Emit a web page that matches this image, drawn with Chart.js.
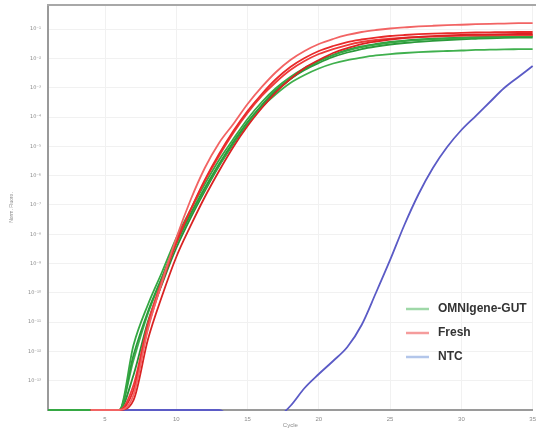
<!DOCTYPE html>
<html><head><meta charset="utf-8">
<script src="https://cdn.jsdelivr.net/npm/chart.js@4.4.1/dist/chart.umd.min.js"></script>
<style>html,body{margin:0;padding:0;background:#fff;overflow:hidden;width:536px;height:429px}canvas{display:block}</style>
</head><body>
<canvas id="c" width="542" height="429"></canvas>
<script>
const cycles = [1,2,3,4,5,6,7,8,9,10,11,12,13,14,15,16,17,18,19,20,21,22,23,24,25,26,27,28,29,30,31,32,33,34,35];

const freshA = [null,null,null,1e-14,1e-14,1e-14,3.25e-14,5.37e-12,2.34e-10,7.41e-9,1.47e-7,1.82e-6,1.30e-5,5.77e-5,2.78e-4,1.06e-3,3.44e-3,8.81e-3,1.79e-2,3.10e-2,4.59e-2,6.30e-2,7.96e-2,9.31e-2,1.05e-1,1.14e-1,1.23e-1,1.30e-1,1.36e-1,1.41e-1,1.47e-1,1.52e-1,1.55e-1,1.59e-1,1.61e-1];
const freshB = [null,null,null,1e-14,1e-14,1e-14,4.82e-14,6.30e-12,2.16e-10,5.01e-9,6.70e-8,7.08e-7,5.46e-6,3.33e-5,1.60e-4,6.10e-4,1.98e-3,5.09e-3,1.03e-2,1.79e-2,2.65e-2,3.63e-2,4.42e-2,5.16e-2,5.82e-2,6.30e-2,6.70e-2,7.03e-2,7.24e-2,7.48e-2,7.66e-2,7.78e-2,7.91e-2,7.96e-2,7.96e-2];
const freshC = [null,null,null,1e-14,1e-14,1e-14,2.19e-14,2.45e-12,7.78e-11,1.67e-9,1.91e-8,1.86e-7,1.44e-6,9.46e-6,4.93e-5,2.03e-4,7.13e-4,1.98e-3,4.70e-3,8.81e-3,1.53e-2,2.26e-2,3.10e-2,3.78e-2,4.42e-2,4.97e-2,5.37e-2,5.73e-2,6.04e-2,6.30e-2,6.49e-2,6.65e-2,6.75e-2,6.81e-2,6.81e-2];
const freshD = [null,null,null,1e-14,1e-14,1e-14,7.13e-14,8.61e-12,2.74e-10,5.86e-9,6.70e-8,6.55e-7,4.67e-6,2.84e-5,1.37e-4,5.21e-4,1.57e-3,4.02e-3,8.15e-3,1.41e-2,2.09e-2,2.86e-2,3.63e-2,4.25e-2,4.70e-2,5.09e-2,5.37e-2,5.58e-2,5.77e-2,5.90e-2,6.04e-2,6.14e-2,6.19e-2,6.25e-2,6.30e-2];

const omniA = [1e-14,1e-14,1e-14,1e-14,1e-14,1e-14,1.65e-12,3.84e-11,5.13e-10,7.41e-9,6.70e-8,5.16e-7,3.41e-6,1.77e-5,8.55e-5,3.25e-4,9.77e-4,2.32e-3,4.70e-3,8.15e-3,1.31e-2,1.86e-2,2.45e-2,2.98e-2,3.49e-2,3.93e-2,4.25e-2,4.52e-2,4.74e-2,4.97e-2,5.16e-2,5.37e-2,5.55e-2,5.68e-2,5.82e-2];
const omniB = [1e-14,1e-14,1e-14,1e-14,1e-14,1e-14,7.53e-13,2.21e-11,3.46e-10,5.01e-9,4.89e-8,3.78e-7,2.49e-6,1.40e-5,6.75e-5,2.57e-4,8.36e-4,1.98e-3,4.02e-3,6.97e-3,1.12e-2,1.59e-2,2.09e-2,2.55e-2,2.98e-2,3.36e-2,3.69e-2,3.99e-2,4.25e-2,4.49e-2,4.67e-2,4.85e-2,5.01e-2,5.13e-2,5.16e-2];
const omniC = [1e-14,1e-14,1e-14,1e-14,1e-14,1e-14,5.09e-13,1.89e-11,3.20e-10,4.63e-9,4.52e-8,3.49e-7,2.30e-6,1.30e-5,6.24e-5,2.19e-4,6.10e-4,1.45e-3,2.72e-3,4.52e-3,6.70e-3,8.81e-3,1.07e-2,1.26e-2,1.41e-2,1.53e-2,1.63e-2,1.72e-2,1.79e-2,1.86e-2,1.94e-2,1.98e-2,2.03e-2,2.06e-2,2.09e-2];
const omniD = [1e-14,1e-14,1e-14,1e-14,1e-14,1e-14,1.57e-13,1.01e-11,2.00e-10,3.38e-9,3.57e-8,2.98e-7,2.13e-6,1.20e-5,5.77e-5,2.38e-4,7.71e-4,1.98e-3,4.35e-3,8.15e-3,1.31e-2,1.94e-2,2.55e-2,3.10e-2,3.63e-2,4.06e-2,4.42e-2,4.70e-2,4.93e-2,5.13e-2,5.30e-2,5.42e-2,5.50e-2,5.55e-2,5.58e-2];

const ntc = [null,null,null,null,null,1e-14,1e-14,1e-14,1e-14,1e-14,1e-14,1e-14,1e-14,5e-15,4e-15,4e-15,5e-15,1.37e-14,5.64e-14,1.69e-13,4.70e-13,1.41e-12,7.96e-12,9.84e-11,1.32e-9,2.06e-8,2.36e-7,1.82e-6,9.46e-6,3.60e-5,1.08e-4,3.25e-4,9.77e-4,2.32e-3,5.51e-3];

const seriesNames = ['OMNIgene-GUT','Fresh','NTC'];
const xTickValues = [5,10,15,20,25,30,35];
const yTickValues = [1e-13,1e-12,1e-11,1e-10,1e-9,1e-8,1e-7,1e-6,1e-5,1e-4,1e-3,1e-2,1e-1];
const yTickLabels = ['10⁻¹³','10⁻¹²','10⁻¹¹','10⁻¹⁰','10⁻⁹','10⁻⁸','10⁻⁷','10⁻⁶','10⁻⁵','10⁻⁴','10⁻³','10⁻²','10⁻¹'];

function pts(arr){ return cycles.map((c,i)=>({x:c, y:arr[i]})); }
function ds(label, arr, color){
  return {label, data: pts(arr), borderColor: color, backgroundColor: color, borderWidth: 1.8,
    pointRadius: 0, fill: false, cubicInterpolationMode: 'monotone', spanGaps: false,
    clip: {left: 0, top: 0, right: 4, bottom: 1}};
}

const datasets = [
  ds('Fresh', freshA, '#f26464'),
  ds('Fresh', freshB, '#e82a2a'),
  ds('Fresh', freshC, '#d92323'),
  ds('Fresh', freshD, '#ee3a3a'),
  ds('OMNIgene-GUT', omniA, '#35a843'),
  ds('OMNIgene-GUT', omniB, '#2c9a3b'),
  ds('OMNIgene-GUT', omniC, '#40b04e'),
  ds('OMNIgene-GUT', omniD, '#2a8f37'),
  ds('NTC', ntc, '#5b5bc6')
];

const framePlugin = {
  id: 'frame',
  beforeDatasetsDraw(chart){
    const {ctx, chartArea: a} = chart;
    ctx.save();
    ctx.strokeStyle = '#a8a8a8';
    ctx.lineWidth = 2;
    ctx.beginPath();
    ctx.moveTo(a.left - 1, a.top);
    ctx.lineTo(chart.width, a.top);
    ctx.stroke();
    ctx.restore();
  }
};

const legendPlugin = {
  id: 'customLegend',
  afterDatasetsDraw(chart){
    const ctx = chart.ctx;
    const colors = ['#9fd8a8', '#f59c9c', '#b3c6ea'];
    const rows = [309, 333, 357];
    ctx.save();
    seriesNames.forEach((name, i) => {
      ctx.strokeStyle = colors[i];
      ctx.lineWidth = 2.5;
      ctx.beginPath();
      ctx.moveTo(406, rows[i]);
      ctx.lineTo(429, rows[i]);
      ctx.stroke();
      ctx.fillStyle = '#333333';
      ctx.font = 'bold 12px "Liberation Sans", Arial, sans-serif';
      ctx.textBaseline = 'middle';
      ctx.fillText(name, 438, rows[i]);
    });
    ctx.restore();
  }
};

new Chart(document.getElementById('c'), {
  type: 'line',
  data: { datasets },
  options: {
    responsive: false,
    animation: false,
    layout: { padding: { top: 5, left: 0, right: 0, bottom: 0 } },
    plugins: { legend: { display: false }, tooltip: { enabled: false } },
    scales: {
      x: {
        type: 'linear', min: 1, max: 35,
        afterBuildTicks: s => { s.ticks = xTickValues.map(v => ({value: v})); },
        ticks: { font: { size: 6, family: '"Liberation Sans", Arial' }, color: '#8c8c8c', padding: 6, maxRotation: 0 },
        grid: { color: '#f1f1f1', drawTicks: false },
        border: { color: '#9a9a9a', width: 2 },
        title: { display: true, text: 'Cycle', font: { size: 6, family: '"Liberation Sans", Arial' }, color: '#8c8c8c', padding: { top: 0, bottom: 0 } },
        afterFit: s => { s.height = 19; }
      },
      y: {
        type: 'logarithmic', min: 1e-14, max: 0.665,
        afterBuildTicks: s => { s.ticks = yTickValues.map(v => ({value: v})); },
        ticks: { callback: (v, i) => yTickLabels[i], font: { size: 5, family: '"DejaVu Sans", Arial' }, color: '#8c8c8c', padding: 7 },
        grid: { color: '#f1f1f1', drawTicks: false },
        border: { color: '#9a9a9a', width: 2 },
        title: { display: true, text: 'Norm. Fluoro.', font: { size: 5, family: '"Liberation Sans", Arial' }, color: '#8c8c8c', padding: { top: 9, bottom: 0 } },
        afterFit: s => { s.width = 48; s.paddingTop = 0; s.paddingBottom = 0; }
      }
    }
  },
  plugins: [framePlugin, legendPlugin]
});
</script>
</body></html>
